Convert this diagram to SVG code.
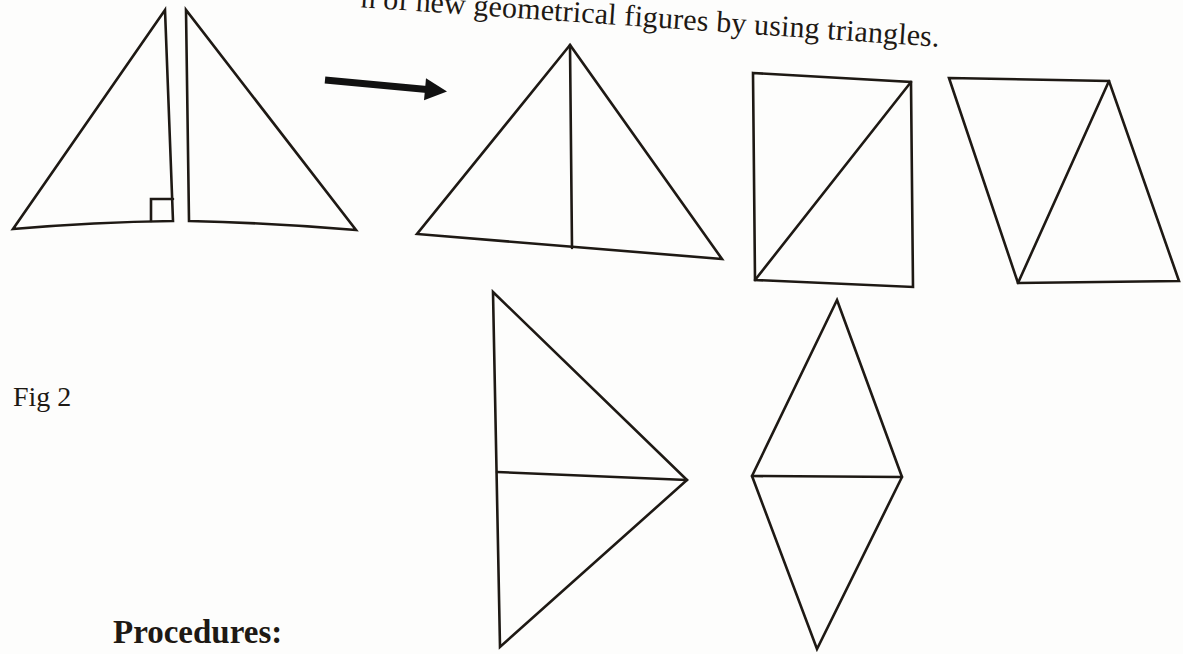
<svg xmlns="http://www.w3.org/2000/svg" width="1183" height="654" viewBox="0 0 1183 654">
<style>
.s{fill:none;stroke:#1e1914;stroke-width:2.6;stroke-linejoin:miter;stroke-linecap:round}
.t{font-family:"Liberation Serif","Times New Roman",serif;fill:#1e1914}
</style>
<rect width="1183" height="654" fill="#fdfdfc"/>
<text class="t" font-size="30" transform="translate(473,15) rotate(3.9)"><tspan x="-8" text-anchor="end">n of new</tspan><tspan x="0" text-anchor="start" textLength="467" lengthAdjust="spacing">geometrical figures by using triangles.</tspan></text>
<g id="fig1-left-triangle">
<path class="s" d="M165,10 L13,229 Q95,222 173,221 Z"/>
<path class="s" stroke-width="1.2" d="M151,221 V199 H173"/>
</g>
<g id="fig1-right-triangle">
<path class="s" d="M186,10 L189,221 Q275,223 356,230 Z"/>
</g>
<g id="connectors">
<line x1="325" y1="80" x2="427" y2="89.5" stroke="#111" stroke-width="7"/>
<polygon points="426,78.3 447,91.4 424,100.3" fill="#111"/>
</g>
<g id="big-triangle">
<path class="s" d="M570,45 L417,234 L722,259 Z"/>
<path class="s" d="M570,45 L572,248"/>
</g>
<g id="rectangle">
<path class="s" d="M753,73 L911,82 L913,287 L755,280 Z"/>
<path class="s" d="M755,280 L911,82"/>
</g>
<g id="parallelogram">
<path class="s" d="M949,78 L1109,81 L1179,281 L1018,283 Z"/>
<path class="s" d="M1018,283 L1109,81"/>
</g>
<g id="kite-triangle">
<path class="s" d="M493,292 L687,480 L500,647 Z"/>
<path class="s" d="M497,472 L687,480"/>
</g>
<g id="rhombus">
<path class="s" d="M837,300 L902,477 L817,649 L752,476 Z"/>
<path class="s" d="M752,476 L902,477"/>
</g>
<text class="t" font-size="28" x="13" y="406">Fig 2</text>
<text class="t" font-size="33" font-weight="bold" x="113" y="643">Procedures:</text>
</svg>
